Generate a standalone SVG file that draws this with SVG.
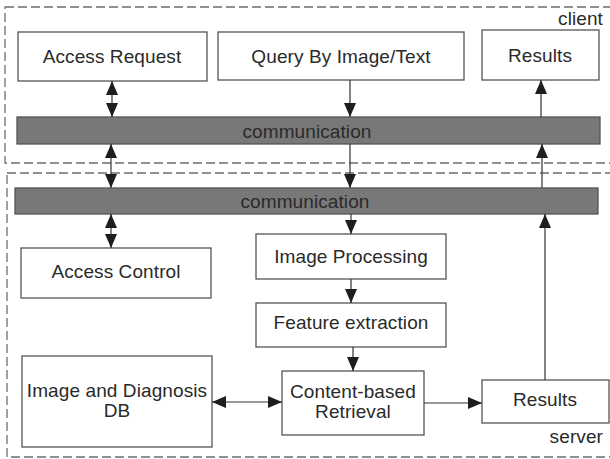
<svg xmlns="http://www.w3.org/2000/svg" width="610" height="459" viewBox="0 0 610 459">
<defs>
<style>
.zone{fill:none;stroke:#6e6e6e;stroke-width:1.3;stroke-dasharray:9,4}
.box{fill:#fff;stroke:#555;stroke-width:1.3}
.bar{fill:#787878;stroke:#555;stroke-width:1.3}
.t{font-family:"Liberation Sans",Arial,sans-serif;font-size:19px;fill:#2a2a2a;text-anchor:middle;letter-spacing:0.1px}
.te{font-family:"Liberation Sans",Arial,sans-serif;font-size:19px;fill:#2a2a2a;text-anchor:end;letter-spacing:0.1px}
.c line{stroke:#333;stroke-width:1.2}
</style>
<marker id="ah" viewBox="0 0 14 12" refX="14" refY="6" markerWidth="14" markerHeight="12" markerUnits="userSpaceOnUse" orient="auto-start-reverse">
<path d="M0,0 L14,6 L0,12 Z" fill="#1e1e1e"/>
</marker>
</defs>
<rect width="610" height="459" fill="#fff"/>
<g id="client-zone"><rect class="zone" x="5" y="7" width="612" height="156"/><text class="te" x="603" y="25">client</text></g>
<g id="server-zone"><rect class="zone" x="7" y="173" width="612" height="284"/><text class="te" x="603" y="443">server</text></g>

<g id="access-request"><rect class="box" x="18" y="32" width="189" height="49"/><text class="t" x="112" y="63">Access Request</text></g>
<g id="query"><rect class="box" x="218" y="32" width="246" height="48"/><text class="t" x="341" y="63">Query By Image/Text</text></g>
<g id="results-client"><rect class="box" x="482" y="30" width="117" height="50"/><text class="t" x="540" y="62">Results</text></g>
<g id="comm-client"><rect class="bar" x="17" y="117" width="583" height="27"/><text class="t" x="307" y="138">communication</text></g>
<g id="comm-server"><rect class="bar" x="15" y="188" width="583" height="26"/><text class="t" x="305" y="208">communication</text></g>
<g id="access-control"><rect class="box" x="21" y="248" width="190" height="50"/><text class="t" x="116" y="278">Access Control</text></g>
<g id="image-processing"><rect class="box" x="256" y="234" width="190" height="45"/><text class="t" x="351" y="263">Image Processing</text></g>
<g id="feature-extraction"><rect class="box" x="256" y="303" width="190" height="44"/><text class="t" x="351" y="329">Feature extraction</text></g>
<g id="cbr"><rect class="box" x="282" y="371" width="142" height="64"/><text class="t" x="353" y="398">Content-based</text><text class="t" x="353" y="418">Retrieval</text></g>
<g id="db"><rect class="box" x="22" y="356" width="190" height="91"/><text class="t" x="117" y="397">Image and Diagnosis</text><text class="t" x="117" y="417">DB</text></g>
<g id="results-server"><rect class="box" x="482" y="380" width="127" height="43"/><text class="t" x="545" y="406">Results</text></g>

<g id="connectors" class="c">
<line x1="112" y1="81" x2="112" y2="117" marker-start="url(#ah)" marker-end="url(#ah)"/>
<line x1="111" y1="144" x2="111" y2="188" marker-start="url(#ah)" marker-end="url(#ah)"/>
<line x1="111" y1="214" x2="111" y2="248" marker-start="url(#ah)" marker-end="url(#ah)"/>
<line x1="350" y1="80" x2="350" y2="117" marker-end="url(#ah)"/>
<line x1="350" y1="144" x2="350" y2="188" marker-end="url(#ah)"/>
<line x1="351" y1="214" x2="351" y2="234" marker-end="url(#ah)"/>
<line x1="351" y1="279" x2="351" y2="303" marker-end="url(#ah)"/>
<line x1="353" y1="347" x2="353" y2="371" marker-end="url(#ah)"/>
<line x1="541" y1="117" x2="541" y2="80" marker-end="url(#ah)"/>
<line x1="542" y1="188" x2="542" y2="144" marker-end="url(#ah)"/>
<line x1="545" y1="380" x2="545" y2="214" marker-end="url(#ah)"/>
<line x1="212" y1="402" x2="282" y2="402" marker-start="url(#ah)" marker-end="url(#ah)"/>
<line x1="424" y1="403" x2="482" y2="403" marker-end="url(#ah)"/>
</g>
</svg>
